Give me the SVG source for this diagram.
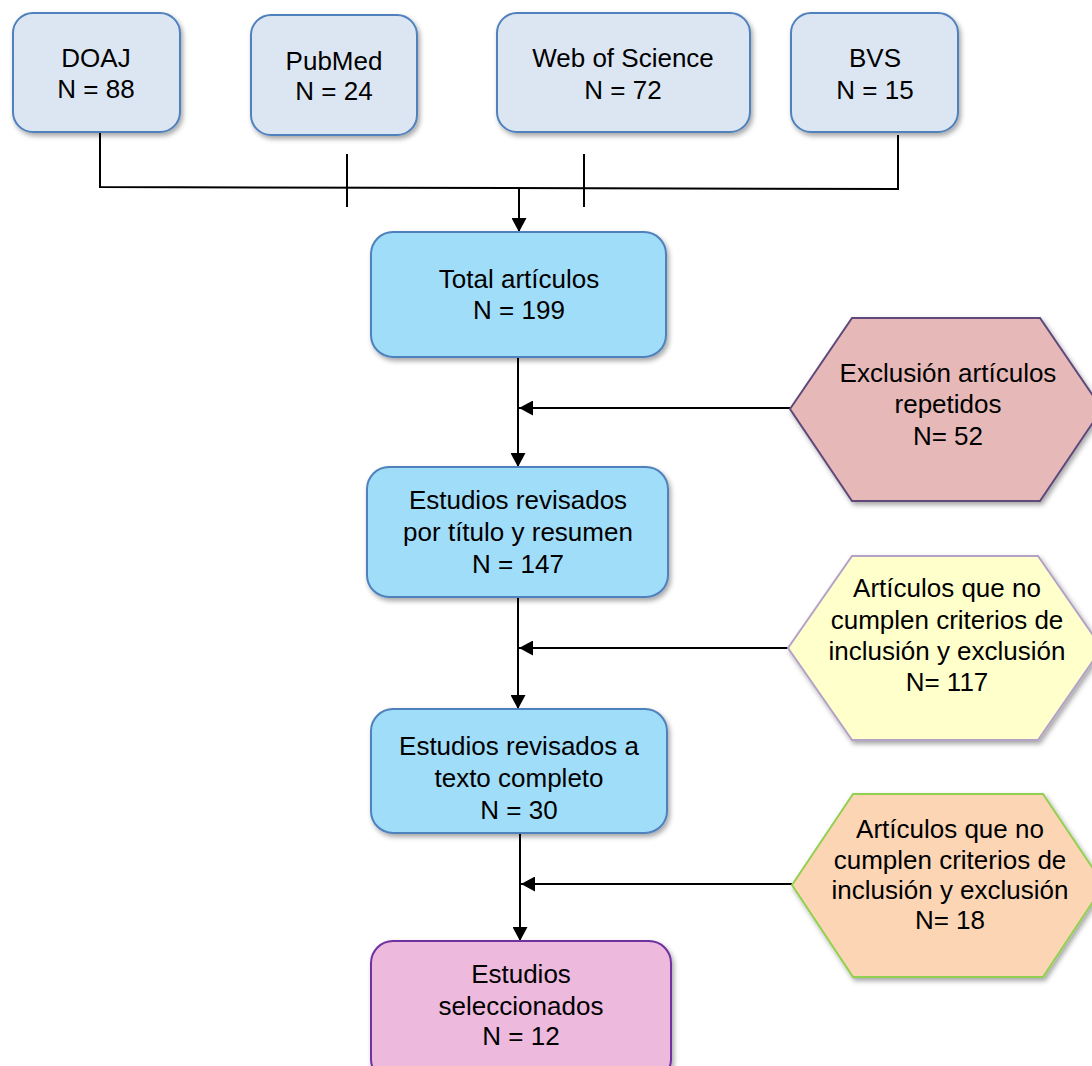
<svg xmlns="http://www.w3.org/2000/svg" width="1092" height="1066" viewBox="0 0 1092 1066">
<style>
text{font-family:"Liberation Sans",Arial,sans-serif;font-size:26px;fill:#000;text-anchor:middle}
.src{fill:#dce6f2;stroke:#4f81bd;stroke-width:2}
.mid{fill:#a0ddf9;stroke:#4f81bd;stroke-width:2}
.fin{fill:#edbadd;stroke:#7030a0;stroke-width:2}
.h1{fill:#e6b9b8;stroke:#5f497a;stroke-width:2}
.h2{fill:#ffffcc;stroke:#b3a2c7;stroke-width:2}
.h3{fill:#fcd5b5;stroke:#92d050;stroke-width:2}
.ln{stroke:#000;stroke-width:2;fill:none}
</style>
<defs>
<filter id="sh" x="-10%" y="-10%" width="130%" height="130%">
<feDropShadow dx="2" dy="3" stdDeviation="2.5" flood-color="#000" flood-opacity="0.35"/>
</filter>
<marker id="ah" markerWidth="14" markerHeight="15" refX="14" refY="7.5" orient="auto" markerUnits="userSpaceOnUse">
<path d="M0,0 L14,7.5 L0,15 Z" fill="#000"/>
</marker>
</defs>
<g id="connectors">
<polyline class="ln" points="100,132 100,187 898,189 898,135"/>
<line class="ln" x1="347" y1="154" x2="347" y2="207"/>
<line class="ln" x1="584" y1="154" x2="584" y2="207"/>
<line class="ln" x1="519" y1="188" x2="519" y2="232" marker-end="url(#ah)"/>
<line class="ln" x1="518" y1="357" x2="518" y2="467" marker-end="url(#ah)"/>
<line class="ln" x1="790" y1="408" x2="519" y2="408" marker-end="url(#ah)"/>
<line class="ln" x1="518" y1="597" x2="518" y2="709" marker-end="url(#ah)"/>
<line class="ln" x1="788" y1="648" x2="519" y2="648" marker-end="url(#ah)"/>
<line class="ln" x1="520" y1="833" x2="520" y2="941" marker-end="url(#ah)"/>
<line class="ln" x1="792" y1="884" x2="521" y2="884" marker-end="url(#ah)"/>
</g>
<g id="doaj"><rect class="src" filter="url(#sh)" x="13" y="13" width="167" height="119" rx="20"/><text x="96" y="67">DOAJ</text><text x="96" y="98">N = 88</text></g>
<g id="pubmed"><rect class="src" filter="url(#sh)" x="251" y="15" width="166" height="120" rx="20"/><text x="334" y="70">PubMed</text><text x="334" y="100">N = 24</text></g>
<g id="wos"><rect class="src" filter="url(#sh)" x="497" y="13" width="253" height="119" rx="20"/><text x="623" y="67">Web of Science</text><text x="623" y="99">N = 72</text></g>
<g id="bvs"><rect class="src" filter="url(#sh)" x="791" y="13" width="167" height="119" rx="20"/><text x="875" y="67">BVS</text><text x="875" y="99">N = 15</text></g>
<g id="total"><rect class="mid" filter="url(#sh)" x="371" y="232" width="295" height="125" rx="22"/><text x="519" y="288">Total artículos</text><text x="519" y="319">N = 199</text></g>
<g id="excl1"><polygon class="h1" filter="url(#sh)" points="790,409 852,318 1040,318 1102,409 1040,501 852,501"/><text x="948" y="382">Exclusión artículos</text><text x="948" y="413">repetidos</text><text x="948" y="445">N= 52</text></g>
<g id="titulo"><rect class="mid" filter="url(#sh)" x="367" y="467" width="301" height="130" rx="22"/><text x="518" y="509">Estudios revisados</text><text x="518" y="541">por título y resumen</text><text x="518" y="573">N = 147</text></g>
<g id="excl2"><polygon class="h2" filter="url(#sh)" points="788,648 852,556 1038,556 1102,648 1038,740 852,740" /><text x="947" y="597">Artículos que no</text><text x="947" y="629">cumplen criterios de</text><text x="947" y="660">inclusión y exclusión</text><text x="947" y="691">N= 117</text></g>
<g id="completo"><rect class="mid" filter="url(#sh)" x="371" y="709" width="296" height="124" rx="22"/><text x="519" y="755">Estudios revisados a</text><text x="519" y="787">texto completo</text><text x="519" y="819">N = 30</text></g>
<g id="excl3"><polygon class="h3" filter="url(#sh)" points="792,885 853,794 1043,794 1104,885 1043,977 853,977"/><text x="950" y="838">Artículos que no</text><text x="950" y="869">cumplen criterios de</text><text x="950" y="899">inclusión y exclusión</text><text x="950" y="929">N= 18</text></g>
<g id="seleccionados"><rect class="fin" filter="url(#sh)" x="371" y="941" width="300" height="140" rx="22"/><text x="521" y="983">Estudios</text><text x="521" y="1015">seleccionados</text><text x="521" y="1045">N = 12</text></g>
</svg>
